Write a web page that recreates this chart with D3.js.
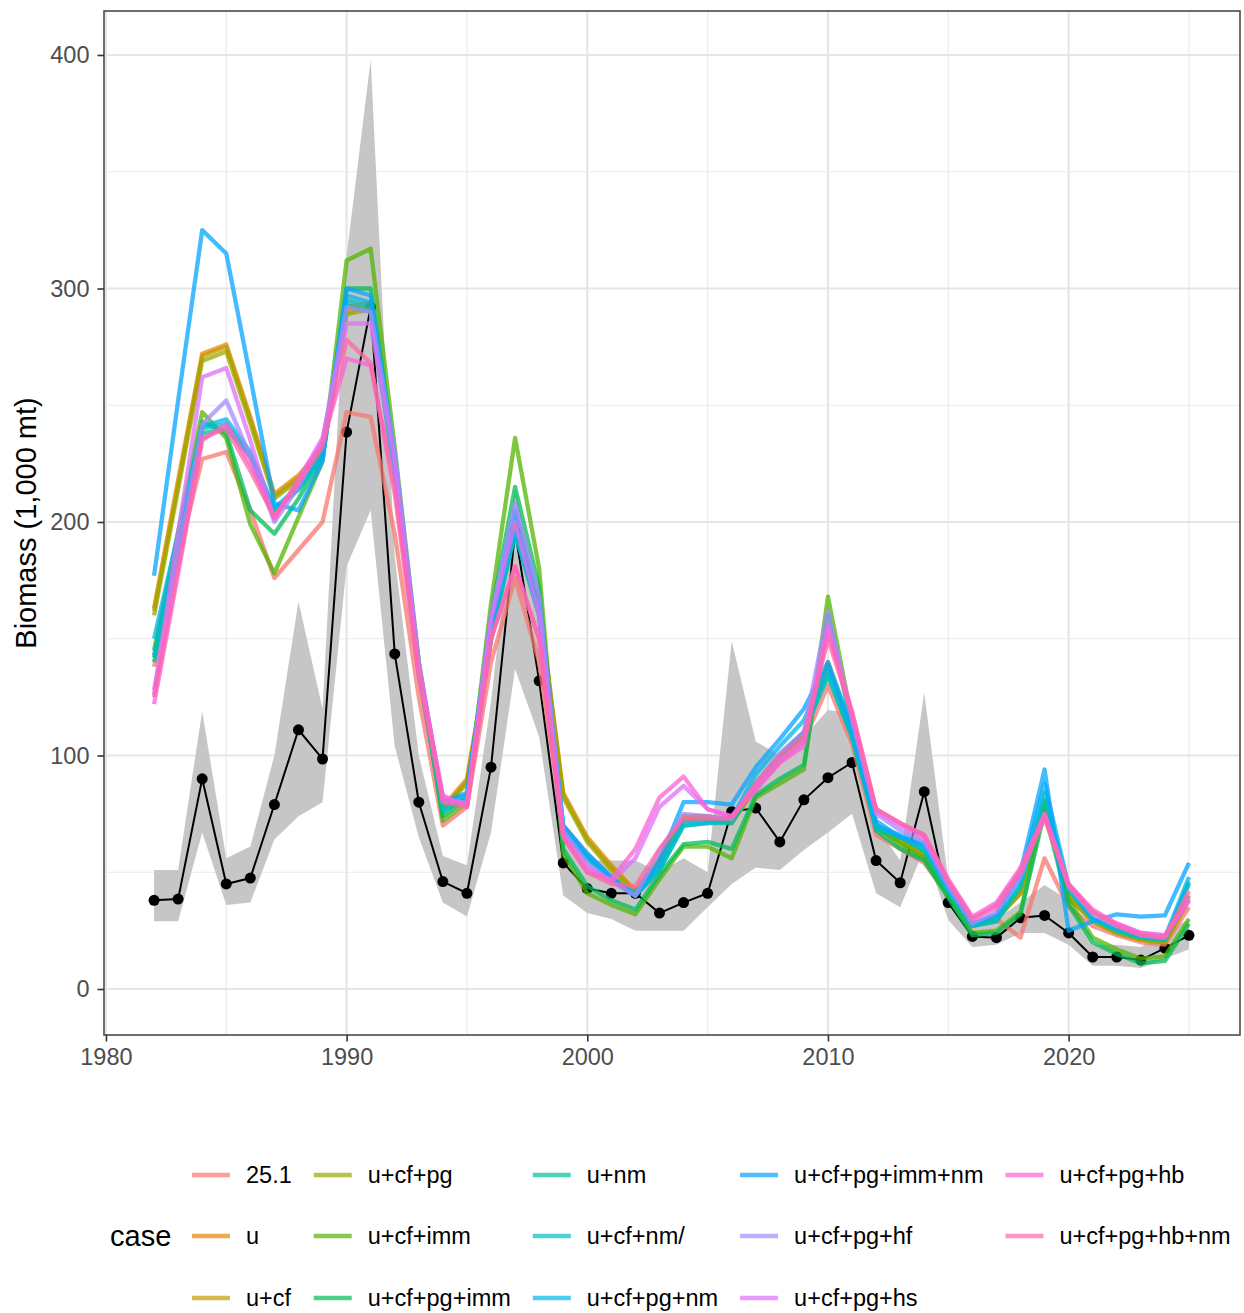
<!DOCTYPE html>
<html>
<head>
<meta charset="utf-8">
<script src="https://cdn.jsdelivr.net/npm/d3@7"></script>
<style>
  html, body { margin: 0; padding: 0; background: #fff; }
  svg { display: block; font-family: "Liberation Sans", Arial, Helvetica, sans-serif; }
</style>
</head>
<body>
<svg id="chart" width="1244" height="1313"></svg>
<script>
// ---------------- DATA ----------------
const years = [1982,1983,1984,1985,1986,1987,1988,1989,1990,1991,1992,1993,1994,1995,1996,1997,1998,1999,2000,2001,2002,2003,2004,2005,2006,2007,2008,2009,2010,2011,2012,2013,2014,2015,2016,2017,2018,2019,2020,2021,2022,2023,2024,2025];

// observed survey biomass (black points) and its interval (grey ribbon)
const observed = [38,38.5,90,45,47.5,79,111,98.5,238.5,292,143.5,80,46,41,95,196,132,54,43,41,41,32.5,37,41,76,77.5,63,81,90.5,97,55,45.5,84.5,37,22.5,22,30.5,31.5,24,13.7,13.7,12.4,17.5,23];
const obsLower = [29,29,67,36,37,64,74,80,181,205,104,65,37,31,67,137,108,40,32.5,30,25,25,25,35,45,52,51,59.5,67,75,41,35,60,29.5,18,19,24,24,19,10,10,9,13,17];
const obsUpper = [51,51,119,56,61,100,166,120,314,398,185,100,57,53,123,215,165,70,55,55,55,50,56,50,149,106,100,108,119.5,118,70,55,127,46.5,28,30,37,44.5,38,19,19,18,24,30];

const cases = ["25.1","u","u+cf","u+cf+pg","u+cf+imm","u+cf+pg+imm","u+nm","u+cf+nm/","u+cf+pg+nm","u+cf+pg+imm+nm","u+cf+pg+hf","u+cf+pg+hs","u+cf+pg+hb","u+cf+pg+hb+nm"];

const s_25_1      = [138,185,227,230,205,176,188,200,247,245,195,125,70,78,140,176,140,70,58,48,40,52,74,74,72,86,97,106,130,105,66,60,54,40,27,30,22,56,35,27,23,20,19,35];
const s_u         = [163,218,272,276,245,212,220,232,292,294,225,140,78,90,150,200,165,84,65,53,42,56,74,74,72,87,100,110,140,110,70,64,58,42,27,31,42,80,40,30,25,22,20,40];
const s_u_cf      = [162,216,271,275,244,211,219,231,290,292,224,139,77,89,150,199,165,83,64,52,42,55,73,73,72,86,99,109,139,109,70,63,57,41,27,30,41,79,39,29,24,21,20,39];
const s_u_cf_pg   = [160,214,269,273,242,210,218,230,289,291,222,138,77,88,149,198,164,82,63,51,41,55,72,73,71,86,98,108,138,108,69,63,57,41,27,30,41,78,39,29,24,21,20,38];
const s_u_cf_imm  = [145,196,247,236,199,178,202,226,312,317,232,140,72,80,165,236,180,58,41,36,32,47,61,61,56,82,88,94,168,115,70,62,56,40,24,25,33,78,38,22,17,13,14,30];
const s_u_cf_pg_imm = [142,192,243,238,205,195,210,228,300,300,228,138,74,82,160,215,172,60,44,38,34,49,62,63,60,83,90,96,160,112,68,60,55,39,23,24,32,76,36,20,15,11,12,28];
const s_u_nm      = [140,188,238,240,228,205,214,228,293,290,220,135,76,82,150,196,160,68,56,47,40,51,70,71,71,88,100,110,135,108,69,65,59,42,27,29,44,81,42,30,25,22,21,45];
const s_u_cf_nm   = [143,190,240,242,228,205,214,228,295,292,222,136,77,82,152,195,160,68,56,47,40,51,70,71,72,88,100,110,134,108,69,65,60,42,27,29,44,84,43,30,25,22,21,46];
const s_u_cf_pg_nm = [150,195,241,244,230,206,215,230,297,294,226,138,80,83,155,196,162,70,57,47,41,53,72,72,73,92,104,115,138,110,70,66,61,43,28,31,47,88,44,30,26,23,22,48];
const s_u_cf_pg_imm_nm = [177,252,325,315,262,208,205,226,300,297,228,138,80,84,155,205,165,70,58,48,40,55,80,80,79,95,107,120,140,112,72,65,62,44,28,32,50,94,25,29,32,31,31.5,54];
const s_u_cf_pg_hf = [128,185,242,252,228,200,215,235,292,290,230,140,80,80,160,208,168,68,54,46,40,59,75,74,73,88,101,110,162,115,75,68,63,44,28,33,48,75,44,32,27,23,22,40];
const s_u_cf_pg_hs = [126,195,262,266,235,201,218,236,285,285,225,138,82,79,158,200,160,66,52,46,56,78,87,77,74,86,98,106,156,117,76,70,65,46,30,36,51,74,45,33,28,24,23,38];
const s_u_cf_pg_hb = [122,178,235,242,225,202,218,234,270,267,215,136,83,78,150,181,150,65,50,47,60,82,91,77,74,85,97,104,153,119,77,71,66,47,31,37,52,75,45,34,28,24,23,38];
const s_u_cf_pg_hb_nm = [125,180,236,240,222,202,217,232,278,268,212,134,80,78,150,181,150,65,50,45,44,60,73,73,73,88,100,108,150,118,77,71,66,46,30,35,50,73,44,33,27,23,22,42];

const seriesValues = [s_25_1, s_u, s_u_cf, s_u_cf_pg, s_u_cf_imm, s_u_cf_pg_imm, s_u_nm, s_u_cf_nm,
  s_u_cf_pg_nm, s_u_cf_pg_imm_nm, s_u_cf_pg_hf, s_u_cf_pg_hs, s_u_cf_pg_hb, s_u_cf_pg_hb_nm];

const yTicks = [0, 100, 200, 300, 400];
const yMinor = [50, 150, 250, 350];
const xTicks = [1980, 1990, 2000, 2010, 2020];
const xMinor = [1985, 1995, 2005, 2015, 2025];

const yTitle = "Biomass (1,000 mt)";
const legendTitle = "case";

// ---------------- COLOURS (ggplot2 hue palette, polarLUV) ----------------
function hclLuv(h, c, l) {
  const WX = 95.047, WY = 100.0, WZ = 108.883;
  const hr = h * Math.PI / 180;
  const U = c * Math.cos(hr), V = c * Math.sin(hr);
  const Y = WY * (l > 7.999592 ? Math.pow((l + 16) / 116, 3) : l / 903.3);
  const den = WX + 15 * WY + 3 * WZ;
  const uN = 4 * WX / den, vN = 9 * WY / den;
  const u = U / (13 * l) + uN, v = V / (13 * l) + vN;
  const X = 9 * Y * u / (4 * v);
  const Z = -X / 3 - 5 * Y + 3 * Y / v;
  const g = t => t > 0.00304 ? 1.055 * Math.pow(t, 1 / 2.4) - 0.055 : 12.92 * t;
  const r = g((3.240479 * X - 1.537150 * Y - 0.498535 * Z) / WY);
  const gg = g((-0.969256 * X + 1.875992 * Y + 0.041556 * Z) / WY);
  const b = g((0.055648 * X - 0.204043 * Y + 1.057311 * Z) / WY);
  const cl = t => Math.round(255 * Math.max(0, Math.min(1, t)));
  return d3.rgb(cl(r), cl(gg), cl(b)).formatHex();
}
const n = cases.length;
const palette = cases.map((_, i) => hclLuv(15 + i * 360 / n, 100, 65));
const color = d3.scaleOrdinal().domain(cases).range(palette);

// ---------------- LAYOUT ----------------
const svg = d3.select("#chart");
const P = { left: 104, right: 1240, top: 11, bottom: 1035 };

const x = d3.scaleLinear().domain([1979.92, 2027.12]).range([P.left, P.right]);
const y = d3.scaleLinear().domain([-19.7, 418.84]).range([P.bottom, P.top]);

const gridCol = "#EBEBEB";
const panel = svg.append("g");

// minor grid
panel.selectAll(".ymin").data(yMinor).join("line")
  .attr("x1", P.left).attr("x2", P.right)
  .attr("y1", d => y(d)).attr("y2", d => y(d))
  .attr("stroke", gridCol).attr("stroke-width", 1.2);
panel.selectAll(".xmin").data(xMinor).join("line")
  .attr("y1", P.top).attr("y2", P.bottom)
  .attr("x1", d => x(d)).attr("x2", d => x(d))
  .attr("stroke", gridCol).attr("stroke-width", 1.2);
// major grid
panel.selectAll(".ymaj").data(yTicks).join("line")
  .attr("x1", P.left).attr("x2", P.right)
  .attr("y1", d => y(d)).attr("y2", d => y(d))
  .attr("stroke", "#E6E6E6").attr("stroke-width", 2.2);
panel.selectAll(".xmaj").data(xTicks).join("line")
  .attr("y1", P.top).attr("y2", P.bottom)
  .attr("x1", d => x(d)).attr("x2", d => x(d))
  .attr("stroke", "#E6E6E6").attr("stroke-width", 2.2);

// clip
svg.append("clipPath").attr("id", "clip").append("rect")
  .attr("x", P.left).attr("y", P.top).attr("width", P.right - P.left).attr("height", P.bottom - P.top);
const plot = svg.append("g").attr("clip-path", "url(#clip)");

// ribbon
const area = d3.area()
  .x((d, i) => x(years[i]))
  .y0((d, i) => y(obsLower[i]))
  .y1((d, i) => y(obsUpper[i]));
plot.append("path").datum(years).attr("d", area).attr("fill", "#C6C6C6");

// observed line + points
const obsLine = d3.line().x((d, i) => x(years[i])).y(d => y(d));
plot.append("path").datum(observed).attr("d", obsLine)
  .attr("fill", "none").attr("stroke", "#000").attr("stroke-width", 2);
plot.selectAll(".obsPt").data(observed).join("circle")
  .attr("cx", (d, i) => x(years[i])).attr("cy", d => y(d)).attr("r", 5.5).attr("fill", "#000");

// model lines
const line = d3.line().x((d, i) => x(years[i])).y(d => y(d));
plot.selectAll(".case").data(cases).join("path")
  .attr("d", (c, i) => line(seriesValues[i]))
  .attr("fill", "none").attr("stroke", c => color(c))
  .attr("stroke-width", 4.3).attr("stroke-opacity", 0.75)
  .attr("stroke-linejoin", "round");

// panel border
svg.append("rect").attr("x", P.left).attr("y", P.top)
  .attr("width", P.right - P.left).attr("height", P.bottom - P.top)
  .attr("fill", "none").attr("stroke", "#4a4a4a").attr("stroke-width", 1.6);

// axes
const yAxis = d3.axisLeft(y).tickValues(yTicks).tickSize(6.5).tickPadding(8).tickFormat(d3.format("d"));
const xAxis = d3.axisBottom(x).tickValues(xTicks).tickSize(6.5).tickPadding(7).tickFormat(d3.format("d"));
const gy = svg.append("g").attr("transform", `translate(${P.left},0)`).call(yAxis);
const gx = svg.append("g").attr("transform", `translate(0,${P.bottom})`).call(xAxis);
[gy, gx].forEach(g => {
  g.select(".domain").remove();
  g.selectAll(".tick line").attr("stroke", "#333").attr("stroke-width", 1.6);
  g.selectAll(".tick text").attr("fill", "#4D4D4D").style("font-size", "23.5px")
    .style("font-family", "'Liberation Sans', Arial, sans-serif");
});

// y title
svg.append("text")
  .attr("transform", `translate(36,${(P.top + P.bottom) / 2}) rotate(-90)`)
  .attr("text-anchor", "middle")
  .style("font-size", "29px").attr("fill", "#000")
  .text(yTitle);

// ---------------- LEGEND ----------------
const rowsY = [1175, 1236, 1298];
const nRows = 3;
const leg = svg.append("g");
leg.append("text").attr("x", 110).attr("y", rowsY[1]).attr("dy", "0.35em")
  .style("font-size", "29px").attr("fill", "#000").text(legendTitle);

const keyW = 38, keyGap = 16, colGap = 22;
let colX = 192;
const nCols = Math.ceil(cases.length / nRows);
for (let c = 0; c < nCols; c++) {
  const items = cases.slice(c * nRows, c * nRows + nRows);
  let maxW = 0;
  items.forEach((name, r) => {
    leg.append("line")
      .attr("x1", colX).attr("x2", colX + keyW)
      .attr("y1", rowsY[r]).attr("y2", rowsY[r])
      .attr("stroke", color(name)).attr("stroke-width", 4.5).attr("stroke-opacity", 0.7);
    const t = leg.append("text").attr("x", colX + keyW + keyGap).attr("y", rowsY[r]).attr("dy", "0.35em")
      .style("font-size", "23.5px").attr("fill", "#000").text(name);
    maxW = Math.max(maxW, t.node().getComputedTextLength());
  });
  colX += keyW + keyGap + maxW + colGap;
}
</script>
</body>
</html>
